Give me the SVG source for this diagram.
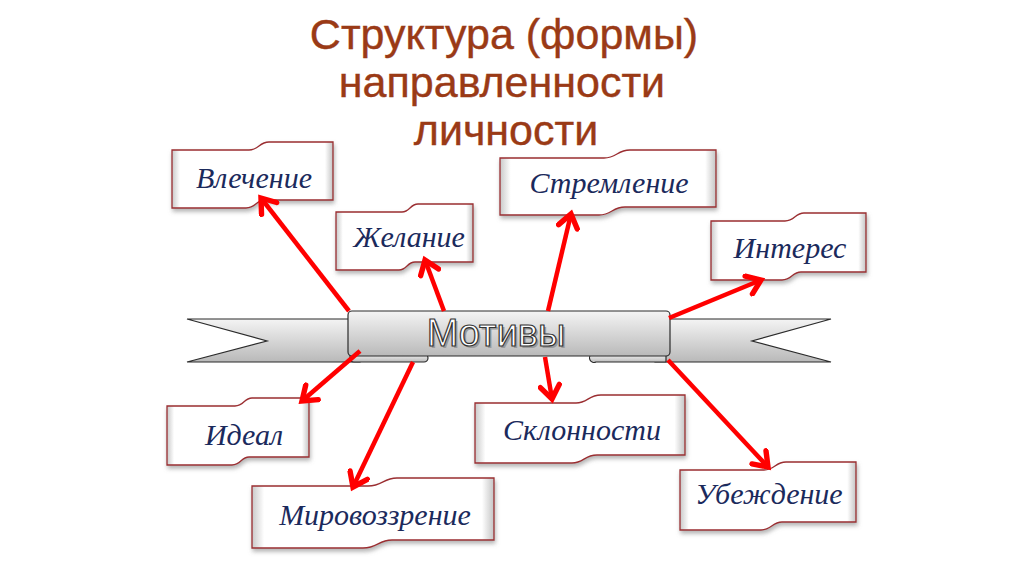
<svg xmlns="http://www.w3.org/2000/svg" width="1024" height="574" viewBox="0 0 1024 574">
<defs>
<style>
.title{font-family:"Liberation Sans",Arial,sans-serif;font-size:43px;fill:#9a3a16;stroke:#9a3a16;stroke-width:0.4;text-anchor:middle}
.lbl{font-family:"Liberation Serif","Times New Roman",serif;font-style:italic;font-size:30px;fill:#1b2a5c;text-anchor:middle}
.node{fill:url(#ng);stroke:#9b2d30;stroke-width:1.3;filter:url(#sh)}
.rib{fill:url(#rg);stroke:#2b2b2b;stroke-width:1.2}
.arr{stroke:#ff0000;stroke-width:4.5;fill:none;marker-end:url(#ah)}
</style>
<linearGradient id="ng" x1="0" y1="0" x2="1" y2="0">
<stop offset="0" stop-color="#c9c9c9"/>
<stop offset="0.05" stop-color="#ffffff"/>
<stop offset="0.95" stop-color="#ffffff"/>
<stop offset="1" stop-color="#c4c4c4"/>
</linearGradient>
<linearGradient id="rg" x1="0" y1="0" x2="0" y2="1">
<stop offset="0" stop-color="#f4f4f4"/>
<stop offset="1" stop-color="#b9b9b9"/>
</linearGradient>
<filter id="sh" x="-10%" y="-10%" width="120%" height="130%">
<feDropShadow dx="1" dy="3" stdDeviation="2" flood-color="#777" flood-opacity="0.55"/>
</filter>
<marker id="ah" markerUnits="userSpaceOnUse" markerWidth="24" markerHeight="24" viewBox="-14 -10 18 20" refX="0" refY="0" orient="auto">
<path d="M-11,-8 L0,0 L-11,8" fill="none" stroke="#ff0000" stroke-width="4.5" stroke-linecap="round" stroke-linejoin="miter"/>
</marker>
</defs>
<rect width="1024" height="574" fill="#ffffff"/>

<g id="title">
<text class="title" x="504" y="49">Структура (формы)</text>
<text class="title" x="502" y="97">направленности</text>
<text class="title" x="506" y="145">личности</text>
</g>

<g id="motivy">
<polygon class="rib" points="187,319 360,319 360,362 187,362 267,341"/>
<polygon class="rib" points="831,319 655,319 655,362 831,362 752,341"/>
<path class="rib" d="M350,354 L424,354 A4,4 0 0 1 424,362 L354,362 Q350,362 350,358 Z"/>
<path class="rib" d="M592,354 L666,354 L666,362 L596,362 A4,4 0 0 1 592,354 Z"/>
<rect class="rib" x="348" y="311" width="322" height="45" rx="4"/>
<text x="498" y="348" font-family="'Liberation Sans',Arial,sans-serif" font-size="38" text-anchor="middle" fill="#9a9a9a">Мотивы</text>
<text x="496" y="346" font-family="'Liberation Sans',Arial,sans-serif" font-size="38" text-anchor="middle" fill="#ffffff" stroke="#333333" stroke-width="1.2">Мотивы</text>
</g>

<g id="n-vlechenie">
<path class="node" transform="translate(172,142)" d="M0,8 L77,8 C87,8 87,0 97,0 L161,0 L161,58 L93,58 C84,58 84,66 74,66 L0,66 Z"/>
<text class="lbl" x="254" y="188">Влечение</text>
</g>
<g id="n-zhelanie">
<path class="node" transform="translate(336,204)" d="M0,8 L66,8 C74,8 74,0 82,0 L137,0 L137,58 L79,58 C71,58 71,66 63,66 L0,66 Z"/>
<text class="lbl" x="409" y="247">Желание</text>
</g>
<g id="n-stremlenie">
<path class="node" transform="translate(500,150)" d="M0,8 L104,8 C117,8 117,0 130,0 L216,0 L216,57 L125,57 C112,57 112,65 99,65 L0,65 Z"/>
<text class="lbl" x="609" y="193">Стремление</text>
</g>
<g id="n-interes">
<path class="node" transform="translate(711,213)" d="M0,8 L74,8 C84,8 84,0 93,0 L155,0 L155,59 L90,59 C81,59 81,67 71,67 L0,67 Z"/>
<text class="lbl" x="790" y="258">Интерес</text>
</g>
<g id="n-ideal">
<path class="node" transform="translate(167,398)" d="M0,8 L68,8 C77,8 77,0 85,0 L142,0 L142,59 L82,59 C74,59 74,67 65,67 L0,67 Z"/>
<text class="lbl" x="244" y="445">Идеал</text>
</g>
<g id="n-mirovozzrenie">
<path class="node" transform="translate(252,478)" d="M0,8 L116,8 C131,8 131,0 145,0 L242,0 L242,62 L140,62 C126,62 126,70 111,70 L0,70 Z"/>
<text class="lbl" x="375" y="525">Мировоззрение</text>
</g>
<g id="n-sklonnosti">
<path class="node" transform="translate(475,395)" d="M0,8 L101,8 C113,8 113,0 126,0 L210,0 L210,60 L122,60 C109,60 109,68 97,68 L0,68 Z"/>
<text class="lbl" x="582" y="440">Склонности</text>
</g>
<g id="n-ubezhdenie">
<path class="node" transform="translate(680,462)" d="M0,8 L84,8 C95,8 95,0 106,0 L176,0 L176,60 L102,60 C92,60 92,68 81,68 L0,68 Z"/>
<text class="lbl" x="769" y="504">Убеждение</text>
</g>

<g id="connectors">
<line class="arr" x1="349" y1="311" x2="261" y2="198"/>
<line class="arr" x1="444" y1="311" x2="425" y2="260"/>
<line class="arr" x1="548" y1="311" x2="571" y2="214"/>
<line class="arr" x1="669" y1="318" x2="761" y2="280"/>
<line class="arr" x1="360" y1="351" x2="302" y2="401"/>
<line class="arr" x1="413" y1="362" x2="353" y2="487"/>
<line class="arr" x1="545" y1="357" x2="552" y2="399"/>
<line class="arr" x1="668" y1="360" x2="768" y2="467"/>
</g>
</svg>
